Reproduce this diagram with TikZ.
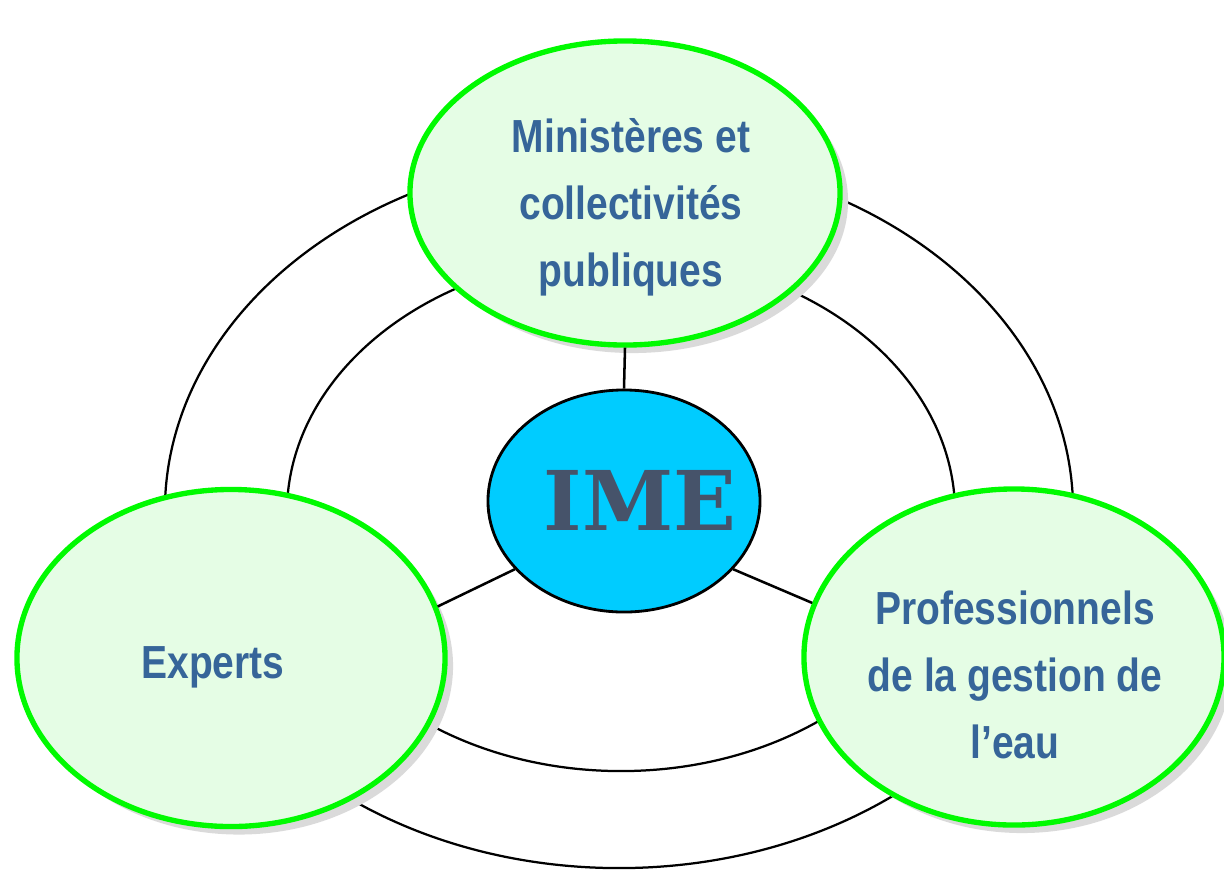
\documentclass[tikz,border=0pt]{standalone}
\usepackage{fontspec}
\setmainfont{Liberation Sans}
\newfontfamily\lblfont{Liberation Sans}[FakeStretch=0.84]
\newfontfamily\imefont{DejaVu Serif}
\usetikzlibrary{shapes.geometric,shadows}
\definecolor{ringgreen}{RGB}{0,250,0}
\definecolor{ellfill}{RGB}{229,253,229}
\definecolor{imeblue}{RGB}{0,204,255}
\definecolor{txtblue}{RGB}{54,101,153}
\definecolor{imetxt}{RGB}{70,83,106}
\definecolor{shadowgray}{RGB}{218,218,218}
\begin{document}
\begin{tikzpicture}[x=0.025cm,y=-0.025cm,
  actor/.style={ellipse, draw=ringgreen, line width=3.8pt, fill=ellfill, inner sep=0pt,
    drop shadow={shadow xshift=0.2cm, shadow yshift=-0.2cm, fill=shadowgray, opacity=1}},
  ring/.style={draw=black, line width=1.6pt},
  link/.style={draw=black, line width=1.8pt},
  lbl/.style={text=txtblue, font=\lblfont\bfseries\fontsize{33}{47.7}\selectfont, align=center, inner sep=0pt},
  core/.style={ellipse, draw=black, line width=2pt, fill=imeblue, minimum width=6.8cm, minimum height=5.55cm, inner sep=0pt},
  coretext/.style={text=imetxt, font=\imefont\bfseries\fontsize{58.6}{70}\selectfont, inner sep=0pt}]
\useasboundingbox (0,0) rectangle (1224,870);
% rings
\draw[ring] (619,511) ellipse [x radius=11.35cm, y radius=8.925cm];
\draw[ring] (621,513) ellipse [x radius=8.35cm, y radius=6.45cm];
% nodes
\node[actor, minimum width=10.75cm, minimum height=7.6cm] (min) at (625,193) {};
\node[actor, minimum width=10.7cm, minimum height=8.425cm] (exp) at (231,658) {};
\node[actor, minimum width=10.5cm, minimum height=8.4cm] (pro) at (1014,657) {};
\node[core] (ime) at (624,501) {};
% connectors
\draw[link] (min.south) -- (ime.north);
\draw[link] (ime.212.8) -- (exp.14.3);
\draw[link] (ime.328) -- (pro.165);
% texts
\node[lbl] (tmin) at (631,207) {Ministères et\\collectivités\\publiques};
\node[lbl, anchor=base] (texp) at (213,678) {Experts};
\node[lbl] (tpro) at (1015,675) {Professionnels\\de la gestion de\\l’eau};
\node[coretext, anchor=base] (time) at (640,530) {IME};
\end{tikzpicture}
\end{document}
